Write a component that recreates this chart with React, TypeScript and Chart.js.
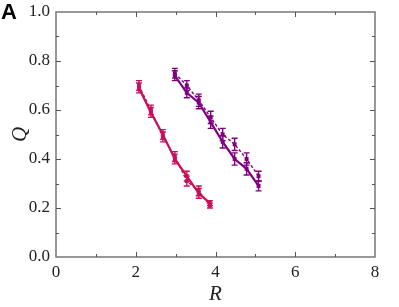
import React, { useEffect, useRef } from "react";
import { Chart, registerables } from "chart.js";

Chart.register(...registerables);

// Red series (R, Q)
const redR = [2.08, 2.38, 2.68, 2.98, 3.28, 3.58, 3.86];
const redSolidQ = [0.69, 0.59, 0.5, 0.4, 0.33, 0.26, 0.22];
const redDashedQ = [0.7, 0.6, 0.49, 0.41, 0.31, 0.27, 0.21];
const redErr = [0.02, 0.02, 0.02, 0.02, 0.02, 0.02, 0.01];

// Purple series (R, Q)
const purpleR = [2.98, 3.28, 3.58, 3.88, 4.18, 4.48, 4.78, 5.08];
const purpleSolidQ = [0.74, 0.67, 0.63, 0.55, 0.47, 0.4, 0.36, 0.29];
const purpleDashedQ = [0.75, 0.7, 0.64, 0.57, 0.5, 0.46, 0.4, 0.33];
const purpleErr = [0.02, 0.02, 0.025, 0.025, 0.025, 0.025, 0.025, 0.02];

const xTicks = [0, 2, 4, 6, 8];
const yTicks = [0, 0.2, 0.4, 0.6, 0.8, 1.0];

const RED = "rgb(200,16,92)";
const PURPLE = "rgb(128,0,128)";
const FRAME = "#777";

const toPts = (xs: number[], ys: number[]) => xs.map((x, i) => ({ x, y: ys[i] }));

const errorBarPlugin = {
  id: "errorBars",
  afterDatasetsDraw(chart: any) {
    const ctx = chart.ctx;
    const xs = chart.scales.x;
    const ys = chart.scales.y;
    chart.data.datasets.forEach((ds: any) => {
      if (!ds.errors) return;
      ctx.save();
      ctx.strokeStyle = ds.borderColor;
      ctx.lineWidth = 1.4;
      ctx.setLineDash([]);
      ds.data.forEach((p: any, i: number) => {
        const e = ds.errors[i];
        const px = xs.getPixelForValue(p.x);
        const y1 = ys.getPixelForValue(p.y + e);
        const y2 = ys.getPixelForValue(p.y - e);
        ctx.beginPath();
        ctx.moveTo(px, y1);
        ctx.lineTo(px, y2);
        ctx.moveTo(px - 3, y1);
        ctx.lineTo(px + 3, y1);
        ctx.moveTo(px - 3, y2);
        ctx.lineTo(px + 3, y2);
        ctx.stroke();
      });
      ctx.restore();
    });
  },
};

const framePlugin = {
  id: "frame",
  afterDraw(chart: any) {
    const ctx = chart.ctx;
    const { left, right, top, bottom } = chart.chartArea;
    const xs = chart.scales.x;
    const ys = chart.scales.y;
    ctx.save();
    ctx.strokeStyle = FRAME;
    ctx.lineWidth = 1.5;
    ctx.strokeRect(left, top, right - left, bottom - top);
    ctx.lineWidth = 1;
    ctx.strokeStyle = "#555";
    ctx.beginPath();
    for (let v = 1; v < 8; v++) {
      const px = Math.round(xs.getPixelForValue(v)) + 0.5;
      const len = v % 2 === 0 ? 5 : 3;
      ctx.moveTo(px, bottom);
      ctx.lineTo(px, bottom - len);
      ctx.moveTo(px, top);
      ctx.lineTo(px, top + len);
    }
    for (let k = 1; k < 10; k++) {
      const v = k / 10;
      const py = Math.round(ys.getPixelForValue(v)) + 0.5;
      const len = k % 2 === 0 ? 5 : 3;
      ctx.moveTo(left, py);
      ctx.lineTo(left + len, py);
      ctx.moveTo(right, py);
      ctx.lineTo(right - len, py);
    }
    ctx.stroke();

    ctx.fillStyle = "#222";
    ctx.font = "italic 21px 'Liberation Serif', serif";
    ctx.textAlign = "center";
    ctx.textBaseline = "middle";
    ctx.fillText("R", (left + right) / 2, bottom + 37);
    ctx.save();
    ctx.translate(left - 36, (top + bottom) / 2);
    ctx.rotate(-Math.PI / 2);
    ctx.fillText("Q", 0, 0);
    ctx.restore();

    ctx.fillStyle = "#000";
    ctx.font = "bold 22px 'Liberation Sans', sans-serif";
    ctx.textAlign = "left";
    ctx.textBaseline = "top";
    ctx.fillText("A", 1, 2);
    ctx.restore();
  },
};

export default function App() {
  const ref = useRef<HTMLCanvasElement>(null);
  useEffect(() => {
    if (!ref.current) return;
    const mk = (label: string, xs: number[], ys: number[], errs: number[], color: string, dashed: boolean) => ({
      label,
      data: toPts(xs, ys),
      errors: errs,
      borderColor: color,
      backgroundColor: color,
      borderWidth: dashed ? 1.4 : 2.2,
      borderDash: dashed ? [3, 2] : [],
      pointStyle: "rect",
      pointRadius: 2.8,
      pointBorderWidth: 0,
      showLine: true,
      tension: 0,
    });
    const chart = new Chart(ref.current, {
      type: "scatter",
      data: {
        datasets: [
          mk("red dashed", redR, redDashedQ, redErr, RED, true),
          mk("red solid", redR, redSolidQ, redErr, RED, false),
          mk("purple dashed", purpleR, purpleDashedQ, purpleErr, PURPLE, true),
          mk("purple solid", purpleR, purpleSolidQ, purpleErr, PURPLE, false),
        ] as any,
      },
      options: {
        animation: false,
        responsive: false,
        layout: { padding: { top: 12, right: 24, left: 0, bottom: 0 } },
        plugins: { legend: { display: false }, tooltip: { enabled: false } },
        scales: {
          x: {
            type: "linear",
            min: 0,
            max: 8,
            afterFit: (s: any) => { s.height = 50; s.paddingLeft = 0; s.paddingRight = 0; },
            afterBuildTicks: (s: any) => { s.ticks = xTicks.map((v) => ({ value: v })); },
            grid: { display: false, drawTicks: false },
            border: { display: false },
            ticks: {
              padding: 5,
              color: "#222",
              font: { family: "'Liberation Serif', serif", size: 17 },
              callback: (v: any) => String(v),
              maxRotation: 0,
            },
          },
          y: {
            type: "linear",
            min: 0,
            max: 1,
            afterFit: (s: any) => { s.width = 56; s.paddingTop = 0; s.paddingBottom = 0; },
            afterBuildTicks: (s: any) => { s.ticks = yTicks.map((v) => ({ value: v })); },
            grid: { display: false, drawTicks: false },
            border: { display: false },
            ticks: {
              padding: 6,
              color: "#222",
              font: { family: "'Liberation Serif', serif", size: 17 },
              callback: (v: any) => Number(v).toFixed(1),
            },
          },
        },
      },
      plugins: [errorBarPlugin, framePlugin],
    } as any);
    return () => chart.destroy();
  }, []);
  return (
    <div style={{ position: "absolute", left: 0, top: 0, width: 399, height: 307, background: "#fff" }}>
      <canvas ref={ref} width={399} height={307} style={{ width: 399, height: 307 }} />
    </div>
  );
}
